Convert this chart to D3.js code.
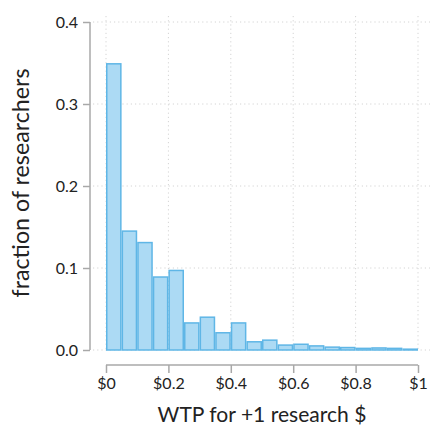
<!DOCTYPE html>
<html>
<head>
<meta charset="utf-8">
<script src="https://cdn.jsdelivr.net/npm/d3@7"></script>
<style>
  body { margin: 0; background: #fff; }
  text { font-family: Lato, "Open Sans", sans-serif; fill: #222; }
</style>
</head>
<body>
<div id="chart"></div>
<script>
// histogram bins (width 0.05) and fraction of researchers in each
var binStarts = [0, 0.05, 0.1, 0.15, 0.2, 0.25, 0.3, 0.35, 0.4, 0.45,
                 0.5, 0.55, 0.6, 0.65, 0.7, 0.75, 0.8, 0.85, 0.9, 0.95];
var fractions = [0.349, 0.145, 0.131, 0.089, 0.097, 0.033, 0.040, 0.021, 0.033, 0.010,
                 0.012, 0.006, 0.007, 0.005, 0.0035, 0.003, 0.002, 0.0025, 0.002, 0.001];
var binWidth = 0.05;
var xTicks = [0, 0.2, 0.4, 0.6, 0.8, 1];
var xTickLabels = ["$0", "$0.2", "$0.4", "$0.6", "$0.8", "$1"];
var yTicks = [0, 0.1, 0.2, 0.3, 0.4];

var svgWidth = 430;
var svgHeight = 426;

var svg = d3.select("#chart")
  .append("svg")
  .attr("width", svgWidth)
  .attr("height", svgHeight);

var x = d3.scaleLinear().domain([0, 1]).range([106, 418]);
var y = d3.scaleLinear().domain([0, 0.4]).range([350, 22]);

// dotted grid
svg.append("g")
  .selectAll("line")
  .data(yTicks)
  .enter()
  .append("line")
  .attr("x1", 93).attr("x2", 430)
  .attr("y1", d => y(d)).attr("y2", d => y(d))
  .attr("stroke", "#d4d4d4")
  .attr("stroke-dasharray", "1.2,3");

svg.append("g")
  .selectAll("line")
  .data(xTicks)
  .enter()
  .append("line")
  .attr("x1", d => x(d)).attr("x2", d => x(d))
  .attr("y1", 16).attr("y2", 352)
  .attr("stroke", "#d4d4d4")
  .attr("stroke-dasharray", "1.2,3");

// bars
svg.append("g")
  .selectAll("rect")
  .data(binStarts)
  .enter()
  .append("rect")
  .attr("x", d => x(d) + 0.75)
  .attr("width", x(binWidth) - x(0) - 1.5)
  .attr("y", (d, i) => y(fractions[i]))
  .attr("height", (d, i) => y(0) - y(fractions[i]))
  .attr("fill", "#acdaf4")
  .attr("stroke", "#5fb6e6")
  .attr("stroke-width", 1.5);

// axes
var leftAxis = d3.axisLeft(y).tickValues(yTicks).tickFormat(d3.format(".1f")).tickSize(7).tickPadding(5);
var bottomAxis = d3.axisBottom(x).tickValues(xTicks).tickFormat((d, i) => xTickLabels[i]).tickSize(8).tickPadding(5);

var gy = svg.append("g")
  .attr("transform", "translate(90,0)")
  .call(leftAxis);

var gx = svg.append("g")
  .attr("transform", "translate(0,365)")
  .call(bottomAxis);

[gy, gx].forEach(function(g) {
  g.selectAll("path, line").attr("stroke", "#a8a8a8").attr("stroke-width", 1.5);
  g.selectAll("text").attr("font-size", 16).attr("fill", "#222")
    .style("font-family", "Lato, 'Open Sans', sans-serif");
});
gx.select(".domain").attr("d", "M" + x(0) + ",0H" + x(1));
gy.select(".domain").attr("d", "M0," + y(0) + "V" + y(0.4));

// axis titles
var xTitle = svg.append("text")
  .attr("x", 262)
  .attr("y", 422)
  .attr("text-anchor", "middle")
  .attr("font-size", 20)
  .text("WTP for +1 research $");

var yTitle = svg.append("text")
  .attr("transform", "translate(29,183) rotate(-90)")
  .attr("text-anchor", "middle")
  .attr("font-size", 20)
  .text("fraction of researchers");

// fit title widths to the reference's lettering
function fitWidth(t, target) {
  var w = t.node().getComputedTextLength();
  t.attr("font-size", 20 * target / w);
}
fitWidth(xTitle, 209);
fitWidth(yTitle, 229);
</script>
</body>
</html>
